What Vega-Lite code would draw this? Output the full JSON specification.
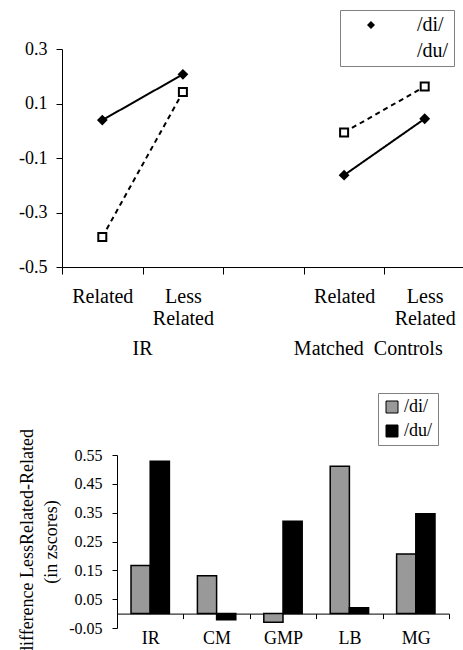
{
  "$schema": "https://vega.github.io/schema/vega-lite/v6.json",
  "background": "white",
  "padding": {"left": 5, "top": 9, "right": 0, "bottom": 0},
  "config": {
    "font": "Liberation Serif",
    "view": {"stroke": null},
    "axis": {"domainColor": "#000", "tickColor": "#000", "labelColor": "#000", "titleColor": "#000", "grid": false, "labelFont": "Liberation Serif", "titleFont": "Liberation Serif", "titleFontWeight": "normal", "domainWidth": 1, "tickWidth": 1, "labelOverlap": false},
    "axisY": {"labelOverlap": false},
    "axisQuantitative": {"labelOverlap": false},
    "legend": {"labelFont": "Liberation Serif", "labelColor": "#000"},
    "text": {"font": "Liberation Serif"}
  },
  "columns": 2,
  "align": "none",
  "spacing": {"row": 33, "column": 0},
  "resolve": {
    "scale": {"fill": "independent", "shape": "independent", "strokeDash": "independent"},
    "legend": {"fill": "independent", "shape": "independent", "strokeDash": "independent"}
  },
  "concat": [
    {
      "width": 13,
      "height": 10,
      "data": {"values": []},
      "mark": {"type": "point", "opacity": 0}
    },
    {
      "width": 403,
      "height": 218,
      "layer": [
        {
          "data": {"values": [
            {"cond": "R1", "group": "IR", "series": "/di/", "value": 0.039},
            {"cond": "LR1", "group": "IR", "series": "/di/", "value": 0.207},
            {"cond": "R2", "group": "MC", "series": "/di/", "value": -0.163},
            {"cond": "LR2", "group": "MC", "series": "/di/", "value": 0.044},
            {"cond": "R1", "group": "IR", "series": "/du/", "value": -0.39},
            {"cond": "LR1", "group": "IR", "series": "/du/", "value": 0.142},
            {"cond": "R2", "group": "MC", "series": "/du/", "value": -0.006},
            {"cond": "LR2", "group": "MC", "series": "/du/", "value": 0.162}
          ]},
          "layer": [
            {
              "mark": {"type": "line", "color": "black", "strokeWidth": 2},
              "encoding": {
                "x": {"field": "cond", "type": "nominal", "sort": null,
                  "scale": {"domain": ["R1", "LR1", "blank", "R2", "LR2"], "paddingInner": 0, "paddingOuter": 0},
                  "axis": {"title": null, "tickBand": "extent", "tickSize": 7, "labelFont": "Liberation Serif", "labelFontSize": 20, "labelPadding": 12, "labelLineHeight": 22, "labelAngle": 0,
                    "labelExpr": "(datum.label == '' || datum.label == 'blank') ? '' : ((datum.label == 'LR1' || datum.label == 'LR2') ? ['Less', 'Related'] : 'Related')"}},
                "y": {"field": "value", "type": "quantitative",
                  "scale": {"domain": [-0.5, 0.3], "nice": false, "zero": false},
                  "axis": {"title": null, "values": [-0.5, -0.4, -0.3, -0.2, -0.1, 0, 0.1, 0.2, 0.3], "labelOverlap": false, "labelExpr": "datum.value == 0 ? '0' : (datum.value < 0 ? '-' + format(-datum.value, '.1f') : format(datum.value, '.1f'))", "tickSize": 6, "labelFont": "Liberation Serif", "labelFontSize": 18, "labelPadding": 9}},
                "detail": {"field": "group", "type": "nominal"},
                "strokeDash": {"field": "series", "type": "nominal", "scale": {"domain": ["/di/", "/du/"], "range": [[1, 0], [5, 4]]}, "legend": null}
              }
            },
            {
              "mark": {"type": "point", "stroke": "black", "strokeWidth": 2, "opacity": 1, "size": 64},
              "encoding": {
                "x": {"field": "cond", "type": "nominal", "title": null},
                "y": {"field": "value", "type": "quantitative",
                  "axis": {"title": null, "values": [-0.5, -0.4, -0.3, -0.2, -0.1, 0, 0.1, 0.2, 0.3], "labelOverlap": false, "labelExpr": "datum.value == 0 ? '0' : (datum.value < 0 ? '-' + format(-datum.value, '.1f') : format(datum.value, '.1f'))", "tickSize": 6, "labelFont": "Liberation Serif", "labelFontSize": 18, "labelPadding": 9}},
                "shape": {"field": "series", "type": "nominal", "scale": {"range": ["diamond", "square"]},
                  "legend": {"orient": "none", "legendX": 278, "legendY": -39, "title": null, "symbolSize": 64, "symbolStrokeWidth": 2, "symbolStrokeColor": "black", "symbolOffset": 16, "labelFont": "Liberation Serif", "labelFontSize": 20, "labelOffset": 36, "strokeColor": "#808080", "padding": 5, "rowPadding": 6}},
                "fill": {"field": "series", "type": "nominal", "scale": {"range": ["black", "white"]}}
              }
            }
          ]
        },
        {
          "data": {"values": [{"cond": "LR1", "label": "IR"}]},
          "mark": {"type": "text", "font": "Liberation Serif", "fontSize": 20, "dy": 82, "baseline": "middle", "color": "black"},
          "encoding": {
            "x": {"field": "cond", "type": "nominal", "bandPosition": 0, "title": null},
            "y": {"datum": -0.5, "type": "quantitative"},
            "text": {"field": "label"}
          }
        },
        {
          "data": {"values": [{"cond": "R2", "label": "Matched\u00a0 Controls"}]},
          "mark": {"type": "text", "font": "Liberation Serif", "fontSize": 20, "dy": 82, "baseline": "middle", "color": "black"},
          "encoding": {
            "x": {"field": "cond", "type": "nominal", "bandPosition": 0.8, "title": null},
            "y": {"datum": -0.5, "type": "quantitative"},
            "text": {"field": "label"}
          }
        }
      ]
    },
    {
      "width": 1,
      "height": 10,
      "data": {"values": []},
      "mark": {"type": "point", "opacity": 0}
    },
    {
      "width": 332,
      "height": 173,
      "data": {"values": [
        {"subj": "IR", "series": "/di/", "value": 0.167},
        {"subj": "IR", "series": "/du/", "value": 0.528},
        {"subj": "CM", "series": "/di/", "value": 0.131},
        {"subj": "CM", "series": "/du/", "value": -0.021},
        {"subj": "GMP", "series": "/di/", "value": -0.03},
        {"subj": "GMP", "series": "/du/", "value": 0.32},
        {"subj": "LB", "series": "/di/", "value": 0.511},
        {"subj": "LB", "series": "/du/", "value": 0.02},
        {"subj": "MG", "series": "/di/", "value": 0.207},
        {"subj": "MG", "series": "/du/", "value": 0.346}
      ]},
      "mark": {"type": "bar", "stroke": "black", "strokeWidth": 1.5},
      "encoding": {
        "x": {"field": "subj", "type": "nominal", "sort": null,
          "scale": {"domain": ["IR", "CM", "GMP", "LB", "MG"], "paddingInner": 0, "paddingOuter": 0},
          "axis": {"title": null, "offset": -14.4, "tickBand": "extent", "tickSize": 5, "labelFont": "Liberation Serif", "labelFontSize": 18, "labelPadding": 11, "labelAngle": 0}},
        "xOffset": {"field": "series", "type": "nominal", "scale": {"paddingOuter": 0.73, "paddingInner": 0}},
        "y": {"field": "value", "type": "quantitative",
          "scale": {"domain": [-0.05, 0.55], "nice": false, "zero": false},
          "axis": {"title": ["difference LessRelated-Related", "(in zscores)"], "titleFont": "Liberation Serif", "titleFontSize": 18, "titleLineHeight": 24, "titlePadding": 8,
            "values": [-0.05, 0.05, 0.15, 0.25, 0.35, 0.45, 0.55], "labelOverlap": false, "labelExpr": "datum.value < 0 ? '-' + format(-datum.value, '.2f') : format(datum.value, '.2f')", "tickSize": 5, "labelFont": "Liberation Serif", "labelFontSize": 16, "labelPadding": 10}},
        "fill": {"field": "series", "type": "nominal", "scale": {"range": ["#999999", "#000000"]},
          "legend": {"orient": "none", "legendX": 261, "legendY": -62, "title": null, "symbolType": "square", "symbolSize": 144, "symbolStrokeColor": "black", "symbolStrokeWidth": 1, "labelFont": "Liberation Serif", "labelFontSize": 18, "labelOffset": 3, "strokeColor": "#808080", "padding": 5, "rowPadding": 6}}
      }
    }
  ]
}
